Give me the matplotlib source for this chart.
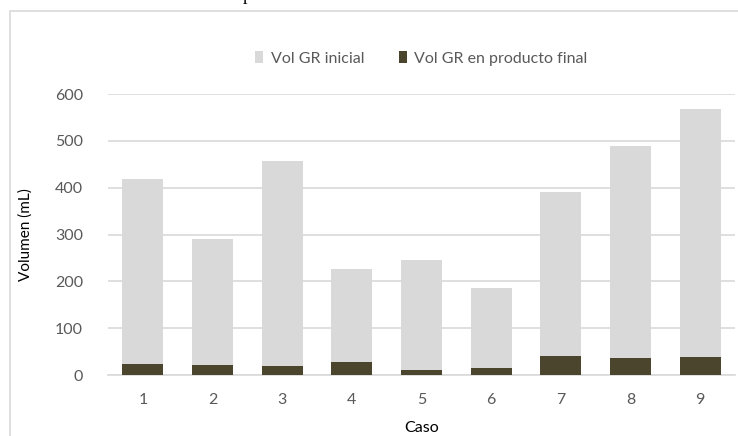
import matplotlib.pyplot as plt
from matplotlib.patches import Rectangle

casos = ["1", "2", "3", "4", "5", "6", "7", "8", "9"]
vol_inicial = [418, 291, 458, 226, 245, 186, 391, 488, 567]
vol_final = [24, 22, 19, 27, 11, 14, 41, 36, 38]

LIGHT = "#d9d9d9"
DARK = "#4b452d"
TXT = "#595959"

plt.rcParams["font.family"] = ["Lato", "DejaVu Sans"]

W, H = 738, 436
fig = plt.figure(figsize=(W / 100, H / 100), dpi=100)
fig.patch.set_facecolor("white")

# chart frame, cut off at right and bottom like the screenshot
fig.patches.append(Rectangle((10 / W, -0.1), 1.2, (H - 11) / H + 0.1,
                             transform=fig.transFigure, fill=False,
                             edgecolor=LIGHT, linewidth=1.2))
# descender of a caption above the crop
fig.text(243 / W, 1.0, "p", family="Liberation Serif", fontsize=13,
         va="baseline", ha="left", color="black")

ax = fig.add_axes([108 / W, 1 - 375 / H, (735 - 108) / W, (375 - 94) / H])
x = list(range(len(casos)))
ax.bar(x, vol_inicial, width=0.59, color=LIGHT, label="Vol GR inicial", zorder=2)
ax.bar(x, vol_final, width=0.59, color=DARK, label="Vol GR en producto final", zorder=3)

ax.set_xlim(-0.5, len(casos) - 0.5)
ax.set_ylim(0, 600)
ax.set_yticks(range(0, 601, 100))
ax.set_xticks(x)
ax.set_xticklabels(casos)
ax.yaxis.grid(True, color=LIGHT, linewidth=1.2, zorder=0)
ax.set_axisbelow(True)
for s in ["top", "right", "left"]:
    ax.spines[s].set_visible(False)
ax.spines["bottom"].set_color(LIGHT)
ax.spines["bottom"].set_linewidth(1.2)
ax.tick_params(axis="both", length=0, colors=TXT, labelsize=11.5)
ax.tick_params(axis="y", pad=18)
ax.tick_params(axis="x", pad=13)

ax.set_ylabel("Volumen (mL)", fontsize=11, color="black")
ax.yaxis.set_label_coords(-0.12, 0.5)
ax.set_xlabel("Caso", fontsize=11.5, color="black")
ax.xaxis.set_label_coords(0.5, -(428 - 375) / (375 - 94))
ax.xaxis.label.set_va("center")

ax.legend(loc="center", bbox_to_anchor=(0.5, (H - 58.5 - (H - 375)) / (375 - 94)),
          ncol=2, frameon=False, fontsize=11.5, handlelength=0.5,
          handleheight=0.8, handletextpad=0.45, columnspacing=2.2,
          labelcolor=TXT)

fig.savefig("out.png", dpi=100)
